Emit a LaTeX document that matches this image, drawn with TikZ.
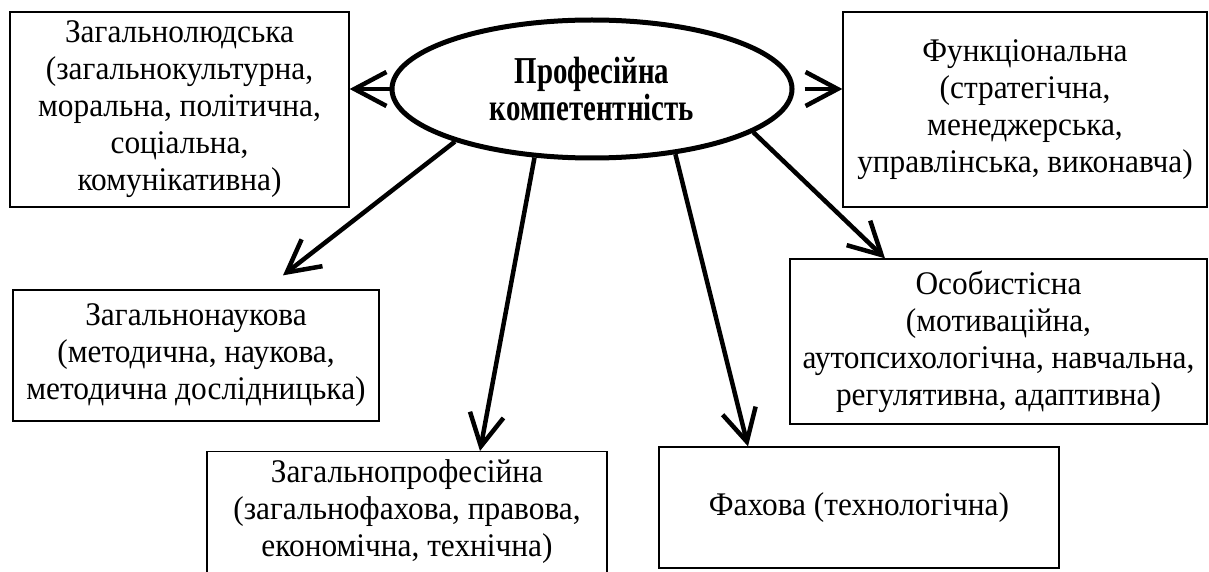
\documentclass[tikz,border=0pt]{standalone}
\usepackage{fontspec}
\setmainfont{Liberation Serif}[FakeStretch=0.95]
\newfontfamily\corefont{Liberation Serif}[FakeStretch=0.76]
\usepackage{tikz}
\usetikzlibrary{shapes,arrows.meta,calc}

\begin{document}
\begin{tikzpicture}[x=1pt,y=-1pt]
\tikzstyle{comp}=[rectangle, draw=black, line width=1.3pt, align=center, inner sep=0pt, font=\fontsize{33}{37}\selectfont]
\tikzstyle{core}=[ellipse, draw=black, line width=5pt, minimum width=400pt, minimum height=138pt, inner sep=0pt, align=center, font=\fontsize{38}{36}\corefont\bfseries]
\tikzstyle{connect}=[line width=4.5pt, -{Straight Barb[length=32pt,width=34pt]}]

	\useasboundingbox (0,0) rectangle (1209,572);
	\clip (0,0) rectangle (1209,572);

	\node[core] (kc) at (592,89) []{\raisebox{-5pt}{\shortstack{Професійна\\[0pt]компетентність}}};

	\node[comp, minimum width=339pt, minimum height=195pt] (k_1) at (179.5,109.5) []{Загальнолюдська\\(загальнокультурна,\\моральна, політична,\\соціальна,\\комунікативна)};
	\node[comp, minimum width=366pt, minimum height=131pt] (k_2) at (196,355.5) []{Загальнонаукова\\(методична, наукова,\\методична дослідницька)};
	\node[comp, minimum width=364pt, minimum height=195pt] (k_3) at (1025,109.5) []{Функціональна\\(стратегічна,\\менеджерська,\\управлінська, виконавча)};
	\node[comp, minimum width=417pt, minimum height=165pt] (k_4) at (998.5,341.5) []{Особистісна\\(мотиваційна,\\аутопсихологічна, навчальна,\\регулятивна, адаптивна)};
	\node[comp, minimum width=400pt, anchor=north, inner ysep=8pt, text depth=90pt] (k_5) at (407,451) []{Загальнопрофесійна\\(загальнофахова, правова,\\економічна, технічна)};
	\node[comp, minimum width=400pt, minimum height=121pt] (k_6) at (859,507.5) []{Фахова (технологічна)};

	\path
	 (kc.180) edge[connect] (kc.180 -| k_1.east)
	 ([xshift=10pt]kc.0) edge[connect] (kc.0 -| k_3.west)
	 (kc.201) edge[connect] ([xshift=87pt,yshift=14pt]k_2.north)
	 (kc.230.6) edge[connect] ([xshift=73pt]k_5.north)
	 (kc.322.9) edge[connect] ([xshift=-111pt]k_6.north)
	 (kc.345.3) edge[connect] ([xshift=-113.5pt]k_4.north);

\end{tikzpicture}
\end{document}
